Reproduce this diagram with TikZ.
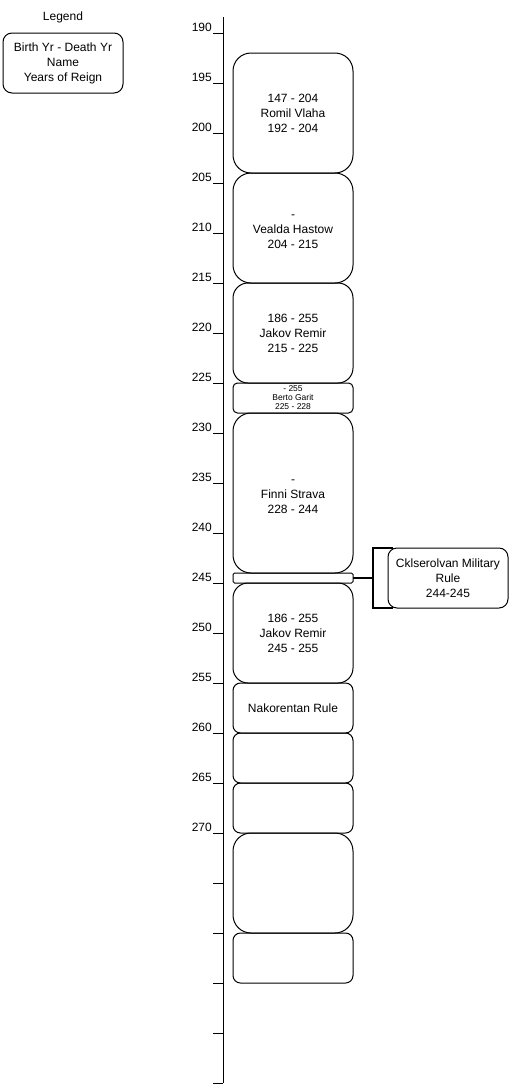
\documentclass[tikz,border=0pt]{standalone}
\usepackage{fontspec}
\setmainfont{Liberation Sans}
\usetikzlibrary{positioning}
\definecolor{reignline}{RGB}{0, 0, 0}

\tikzset{
    reign/.style={draw=reignline, line width=1pt, rounded corners=#1, minimum width=120pt,
        inner sep=0pt, outer sep=0pt, align=center, font=\fontsize{12}{15}\selectfont},
    reign/.default=18pt,
    yearlabel/.style={anchor=base east, inner sep=0pt, font=\fontsize{12}{14}\selectfont},
}

\begin{document}
\begin{tikzpicture}[x=1pt, y=-1pt]
    \useasboundingbox (0,0) rectangle (512,1088);

    % legend
    \node[font=\fontsize{12}{14}\selectfont] (legendtitle) at (63,17) {Legend};
    \node[reign=9pt, minimum height=60pt] (legend) at (63,63)
        {Birth Yr - Death Yr\\Name\\Years of Reign};

    % time axis, 10pt per year
    \draw[line width=1pt] (223,17) -- (223,1083);
    \foreach \k in {0,...,21} {
        \draw[line width=1pt] (213,33+50*\k) -- (223,33+50*\k);
    }
    \foreach \yr [count=\k from 0] in {190,195,...,270} {
        \node[yearlabel] (yr\yr) at (212,31+50*\k) {\yr};
    }

    % reigns
    \node[reign, minimum height=120pt] (vlaha) at (293,113) {147 - 204\\Romil Vlaha\\192 - 204};
    \node[reign, minimum height=110pt, below=0pt of vlaha] (hastow) {\strut-\\Vealda Hastow\\204 - 215};
    \node[reign=15pt, minimum height=100pt, below=0pt of hastow] (remira) {186 - 255\\Jakov Remir\\215 - 225};
    \node[reign=4.5pt, minimum height=30pt, below=0pt of remira,
          font=\fontsize{8.5}{9}\selectfont] (garit) {- 255\\Berto Garit\\225 - 228};
    \node[reign, minimum height=160pt, below=0pt of garit] (strava) {\strut-\\Finni Strava\\228 - 244};
    \node[reign=1.5pt, minimum height=10pt, below=0pt of strava] (military) {};
    \node[reign=15pt, minimum height=100pt, below=0pt of military] (remirb) {186 - 255\\Jakov Remir\\245 - 255};
    \node[reign=7.5pt, minimum height=50pt, below=0pt of remirb] (nakorentan) {Nakorentan Rule};
    \node[reign=7.5pt, minimum height=50pt, below=0pt of nakorentan] (blanka) {};
    \node[reign=7.5pt, minimum height=50pt, below=0pt of blanka] (blankb) {};
    \node[reign, minimum height=100pt, below=0pt of blankb] (blankc) {};
    \node[reign=7.5pt, minimum height=50pt, below=0pt of blankc] (blankd) {};

    % military interlude
    \node[reign=9pt, minimum height=60pt] (milrule) at (448,578) {Cklserolvan Military\\Rule\\244-245};
    \coordinate (bracket) at (373,578);
    \draw[line width=1.6pt] ([xshift=5pt]milrule.north west) -- (milrule.north west -| bracket)
        -- (milrule.south west -| bracket) -- ([xshift=5pt]milrule.south west);
    \draw[line width=1.2pt] (military.east) -- (bracket);
\end{tikzpicture}
\end{document}
